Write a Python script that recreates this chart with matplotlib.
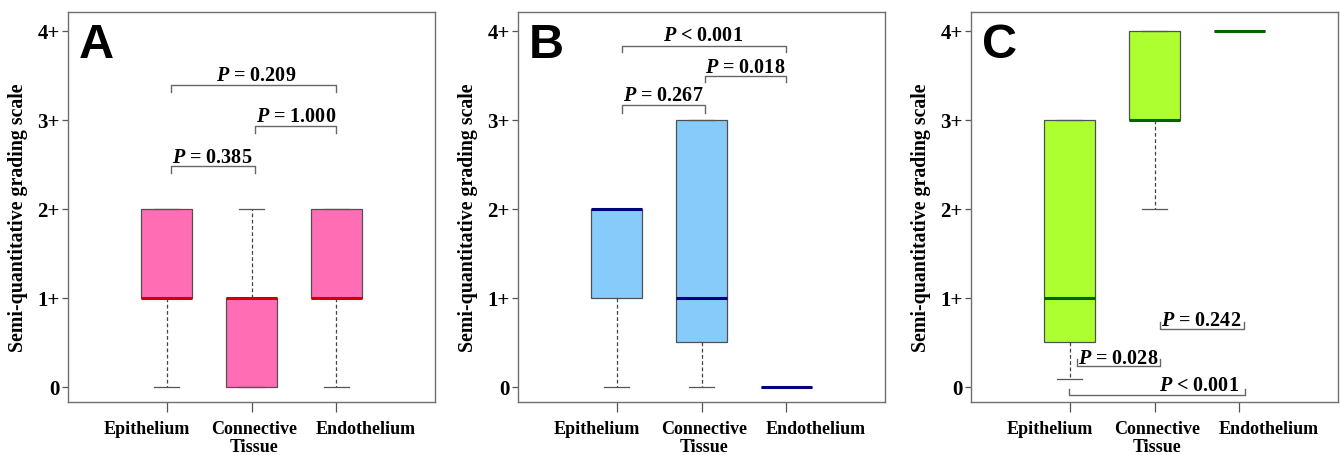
import numpy as np
import matplotlib
matplotlib.use("Agg")
import matplotlib.pyplot as plt

plt.rcParams['mathtext.fontset'] = 'custom'
plt.rcParams['mathtext.it'] = 'Liberation Serif:italic:bold'
plt.rcParams['mathtext.rm'] = 'Liberation Serif:bold'

categories = ["Epithelium", "Connective\nTissue", "Endothelium"]
ytick_labels = ["0", "1+", "2+", "3+", "4+"]
panel_letters = ["A", "B", "C"]

# box stats per panel: whislo, q1, med, q3, whishi
a_whislo = [0, 0, 0]
a_q1 = [1, 0, 1]
a_med = [1, 1, 1]
a_q3 = [2, 1, 2]
a_whishi = [2, 2, 2]

b_whislo = [0, 0, 0]
b_q1 = [1, 0.5, 0]
b_med = [2, 1, 0]
b_q3 = [2, 3, 0]
b_whishi = [2, 3, 0]

c_whislo = [0.09, 2, 4]
c_q1 = [0.5, 3, 4]
c_med = [1, 3, 4]
c_q3 = [3, 4, 4]
c_whishi = [3, 4, 4]

# p-value brackets: (label, x1, x2, bracket y, tick y, text x, text y)
a_pvals = [("= 0.209", 1.05, 3.0, 3.39, 3.31, 2.06, 3.45),
           ("= 1.000", 2.04, 3.0, 2.93, 2.85, 2.52, 2.99),
           ("= 0.385", 1.05, 2.04, 2.48, 2.40, 1.54, 2.53)]
b_pvals = [("< 0.001", 1.07, 3.0, 3.83, 3.76, 2.02, 3.90),
           ("= 0.018", 2.04, 3.0, 3.49, 3.42, 2.52, 3.54),
           ("= 0.267", 1.07, 2.04, 3.16, 3.08, 1.55, 3.22)]
c_pvals = [("= 0.242", 2.07, 3.05, 0.65, 0.73, 2.55, 0.69),
           ("= 0.028", 1.09, 2.06, 0.23, 0.31, 1.57, 0.27),
           ("< 0.001", 0.99, 3.06, -0.09, -0.02, 2.53, -0.04)]

fills = ["#FF6EB4", "#87CBFA", "#ADFF2F"]
med_colors = ["#D00000", "#000080", "#006400"]

panels = [(a_whislo, a_q1, a_med, a_q3, a_whishi, a_pvals),
          (b_whislo, b_q1, b_med, b_q3, b_whishi, b_pvals),
          (c_whislo, c_q1, c_med, c_q3, c_whishi, c_pvals)]

fig = plt.figure(figsize=(13.4, 4.56), dpi=100)
lefts = [68 / 1340, 518 / 1340, 971 / 1340]
serif = "Liberation Serif"
positions = [1, 2, 3]
label_shift = [-0.235, 0.035, 0.35]  # labels sit off their ticks in the original

for i, (wlo, q1, med, q3, whi, pvals) in enumerate(panels):
    ax = fig.add_axes([lefts[i], 53 / 456, 367 / 1340, 390 / 456])
    stats = []
    for j in range(3):
        stats.append(dict(whislo=wlo[j], q1=q1[j], med=med[j], q3=q3[j], whishi=whi[j], fliers=[]))
    ax.bxp(stats, positions=positions, widths=0.6, patch_artist=True,
           boxprops=dict(facecolor=fills[i], edgecolor="#505050", linewidth=0.9),
           medianprops=dict(color=med_colors[i], linewidth=2.2),
           whiskerprops=dict(color="#444444", linestyle=(0, (3, 2)), linewidth=0.9),
           capprops=dict(color="#555555", linewidth=0.9),
           capwidths=0.3)
    ax.set_xlim(-0.16, 4.16)
    ax.set_ylim(-0.17, 4.21)
    ax.set_xticks(positions)
    ax.set_xticklabels([])
    for p, name, dx in zip(positions, categories, label_shift):
        ax.text(p + dx, -0.045, name, transform=ax.get_xaxis_transform(), ha="center", va="top",
                fontfamily=serif, fontweight="bold", fontsize=13, linespacing=1.12)
    ax.set_yticks([0, 1, 2, 3, 4])
    ax.set_yticklabels(ytick_labels, fontfamily=serif, fontweight="bold", fontsize=15)
    ax.tick_params(axis="x", length=7, width=0.9, color="#555555")
    ax.tick_params(axis="y", length=4, width=0.9, color="#555555", pad=2)
    for sp in ax.spines.values():
        sp.set_color("#707070")
        sp.set_linewidth(1.0)
    ax.set_ylabel("Semi-quantitative grading scale", fontfamily=serif, fontweight="bold", fontsize=14.3)
    ax.yaxis.set_label_coords(-0.108, 0.474)
    ax.text(0.03, 0.885, panel_letters[i], transform=ax.transAxes, fontsize=35,
            fontweight="bold", fontfamily="Liberation Sans", va="baseline", ha="left")
    for lab, x1, x2, yb, yt, tx, ty in pvals:
        ax.plot([x1, x1, x2, x2], [yt, yb, yb, yt], color="#666666", linewidth=1.0)
        ax.text(tx, ty, r"$P$ " + lab, fontfamily=serif, fontweight="bold", fontsize=14.5,
                ha="center", va="baseline")

fig.savefig("out.png", dpi=100)
